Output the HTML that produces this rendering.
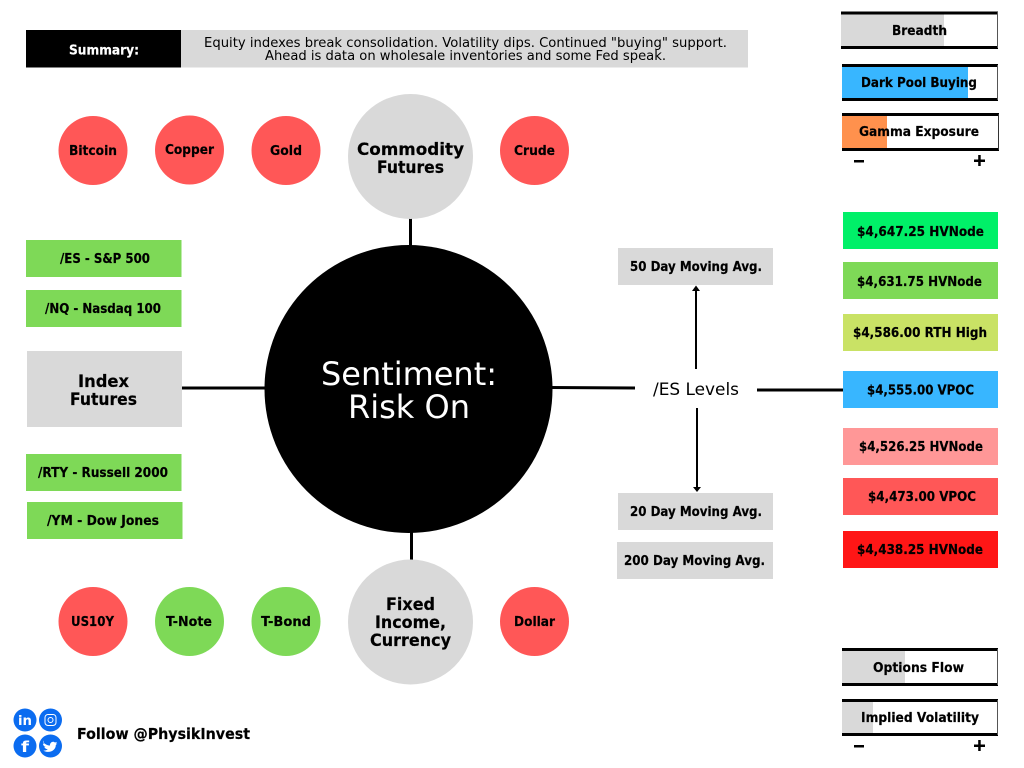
<!DOCTYPE html>
<html><head><meta charset="utf-8"><style>
html,body{margin:0;padding:0;background:#fff;width:1024px;height:768px;overflow:hidden}
svg{display:block}
text{font-family:"DejaVu Sans","Liberation Sans",sans-serif;fill:#000}
.b{font-weight:700;font-size:13px;stroke:#000;stroke-width:.2px}
.w{stroke:#fff}
.h{font-weight:700;font-size:17px;stroke:#000;stroke-width:.2px}
.r{font-size:13.5px}
</style></head><body>
<svg width="1024" height="768" viewBox="0 0 1024 768" xmlns="http://www.w3.org/2000/svg">
<rect width="1024" height="768" fill="#fff"/>
<!-- summary -->
<rect x="26" y="30" width="156" height="37.500" fill="#000"/>
<rect x="181" y="30" width="567" height="37.500" fill="#d9d9d9"/>
<text class="b w" x="69" y="54.500" textLength="70" lengthAdjust="spacingAndGlyphs" style="fill:#fff">Summary:</text>
<text class="r" x="204" y="47" textLength="523" lengthAdjust="spacingAndGlyphs">Equity indexes break consolidation. Volatility dips. Continued "buying" support.</text>
<text class="r" x="265" y="60" textLength="401" lengthAdjust="spacingAndGlyphs">Ahead is data on wholesale inventories and some Fed speak.</text>
<!-- connectors -->
<g stroke="#000" stroke-width="3" fill="none">
<line x1="410.500" y1="215" x2="410.500" y2="250"/>
<line x1="411.500" y1="530" x2="411.500" y2="562"/>
<line x1="182" y1="388" x2="268" y2="388"/>
<line x1="550" y1="387.500" x2="635" y2="388"/>
<line x1="757" y1="390" x2="843" y2="390"/>
</g>
<g stroke="#000" stroke-width="2" fill="#000">
<line x1="696" y1="288" x2="696" y2="369"/>
<line x1="697" y1="408" x2="697" y2="489"/>
</g>
<polygon points="696,285.500 700,291 692,291" fill="#000"/>
<polygon points="697,492 701,487 693,487" fill="#000"/>
<!-- circles -->
<circle cx="408.500" cy="389" r="144" fill="#000"/>
<circle cx="410.500" cy="156.500" r="62.500" fill="#d9d9d9"/>
<circle cx="410.500" cy="622" r="62.500" fill="#d9d9d9"/>
<g fill="#ff5757">
<circle cx="93" cy="150.500" r="34.500"/>
<circle cx="189.500" cy="150" r="34.500"/>
<circle cx="286" cy="150.500" r="34.500"/>
<circle cx="534.500" cy="150.500" r="34.500"/>
<circle cx="93" cy="621.500" r="34.500"/>
<circle cx="534.500" cy="621.500" r="34.500"/>
</g>
<g fill="#7ed957">
<circle cx="189.500" cy="621.500" r="34.500"/>
<circle cx="286" cy="621.500" r="34.500"/>
</g>
<text x="321" y="385" font-size="32" textLength="176" lengthAdjust="spacingAndGlyphs" style="fill:#fff">Sentiment:</text>
<text x="348" y="418" font-size="32" textLength="122" lengthAdjust="spacingAndGlyphs" style="fill:#fff">Risk On</text>
<text class="h" x="357" y="155" textLength="107" lengthAdjust="spacingAndGlyphs">Commodity</text>
<text class="h" x="377" y="173" textLength="67" lengthAdjust="spacingAndGlyphs">Futures</text>
<text class="h" x="386" y="610" textLength="49" lengthAdjust="spacingAndGlyphs">Fixed</text>
<text class="h" x="375" y="628" textLength="71" lengthAdjust="spacingAndGlyphs">Income,</text>
<text class="h" x="370" y="646" textLength="81" lengthAdjust="spacingAndGlyphs">Currency</text>
<text class="b" x="69" y="155" textLength="48" lengthAdjust="spacingAndGlyphs">Bitcoin</text>
<text class="b" x="165" y="154" textLength="49" lengthAdjust="spacingAndGlyphs">Copper</text>
<text class="b" x="270" y="155" textLength="32" lengthAdjust="spacingAndGlyphs">Gold</text>
<text class="b" x="514" y="155" textLength="41" lengthAdjust="spacingAndGlyphs">Crude</text>
<text class="b" x="71" y="626" textLength="43" lengthAdjust="spacingAndGlyphs">US10Y</text>
<text class="b" x="166" y="626" textLength="46" lengthAdjust="spacingAndGlyphs">T-Note</text>
<text class="b" x="261" y="626" textLength="50" lengthAdjust="spacingAndGlyphs">T-Bond</text>
<text class="b" x="514" y="626" textLength="41" lengthAdjust="spacingAndGlyphs">Dollar</text>
<!-- left index -->
<g fill="#7ed957">
<rect x="26" y="240" width="155.500" height="37"/>
<rect x="26" y="290" width="155.500" height="37"/>
<rect x="26" y="454" width="155.500" height="37"/>
<rect x="27" y="502" width="155.500" height="37"/>
</g>
<rect x="27" y="351" width="155" height="76" fill="#d9d9d9"/>
<text class="b" x="60" y="263" textLength="90" lengthAdjust="spacingAndGlyphs">/ES - S&amp;P 500</text>
<text class="b" x="45" y="313" textLength="116" lengthAdjust="spacingAndGlyphs">/NQ - Nasdaq 100</text>
<text class="b" x="38" y="477" textLength="130" lengthAdjust="spacingAndGlyphs">/RTY - Russell 2000</text>
<text class="b" x="47" y="525" textLength="112" lengthAdjust="spacingAndGlyphs">/YM - Dow Jones</text>
<text class="h" x="78" y="387" textLength="51" lengthAdjust="spacingAndGlyphs">Index</text>
<text class="h" x="70" y="405" textLength="67" lengthAdjust="spacingAndGlyphs">Futures</text>
<!-- ES levels -->
<text x="653" y="395" font-size="17" textLength="86" lengthAdjust="spacingAndGlyphs">/ES Levels</text>
<g fill="#d9d9d9">
<rect x="618" y="248" width="155" height="37"/>
<rect x="618" y="493" width="155" height="37"/>
<rect x="617" y="542" width="156" height="37"/>
</g>
<text class="b" x="630" y="271" textLength="132" lengthAdjust="spacingAndGlyphs">50 Day Moving Avg.</text>
<text class="b" x="630" y="516" textLength="132" lengthAdjust="spacingAndGlyphs">20 Day Moving Avg.</text>
<text class="b" x="624" y="565" textLength="141" lengthAdjust="spacingAndGlyphs">200 Day Moving Avg.</text>
<!-- right levels -->
<rect x="843" y="212" width="155" height="37" fill="#00f068"/>
<rect x="843" y="262" width="155" height="37" fill="#7ed957"/>
<rect x="843" y="314" width="155" height="37" fill="#c9e265"/>
<rect x="843" y="371" width="155" height="37" fill="#38b6ff"/>
<rect x="843" y="428" width="155" height="37" fill="#ff9797"/>
<rect x="843" y="478" width="155" height="37" fill="#ff5757"/>
<rect x="843" y="531" width="155" height="37" fill="#ff1616"/>
<text class="b" x="857" y="236" textLength="127" lengthAdjust="spacingAndGlyphs">$4,647.25 HVNode</text>
<text class="b" x="857" y="286" textLength="125" lengthAdjust="spacingAndGlyphs">$4,631.75 HVNode</text>
<text class="b" x="853" y="337" textLength="134" lengthAdjust="spacingAndGlyphs">$4,586.00 RTH High</text>
<text class="b" x="867" y="394.500" textLength="107" lengthAdjust="spacingAndGlyphs">$4,555.00 VPOC</text>
<text class="b" x="859" y="451" textLength="124" lengthAdjust="spacingAndGlyphs">$4,526.25 HVNode</text>
<text class="b" x="868" y="501" textLength="108" lengthAdjust="spacingAndGlyphs">$4,473.00 VPOC</text>
<text class="b" x="857" y="554" textLength="126" lengthAdjust="spacingAndGlyphs">$4,438.25 HVNode</text>
<!-- gauges -->
<g>
<rect x="841" y="14" width="103" height="32" fill="#d9d9d9"/>
<rect x="842" y="67" width="126" height="32" fill="#38b6ff"/>
<rect x="842" y="116" width="45" height="33" fill="#ff914d"/>
<rect x="842" y="651" width="63" height="32" fill="#d9d9d9"/>
<rect x="842" y="702" width="31" height="32" fill="#d9d9d9"/>
</g>
<g fill="#000">
<rect x="841" y="11.500" width="157" height="3"/><rect x="841" y="46" width="157" height="3"/><rect x="997" y="12" width="1" height="36" fill="#555"/>
<rect x="842" y="64" width="156" height="3"/><rect x="842" y="98" width="156" height="3"/><rect x="997" y="65" width="1" height="35" fill="#555"/>
<rect x="842" y="113" width="157" height="3"/><rect x="842" y="148" width="157" height="3"/><rect x="998" y="114" width="1" height="36" fill="#333"/>
<rect x="842" y="648" width="156" height="3"/><rect x="842" y="683" width="156" height="3"/><rect x="997" y="649" width="1" height="36" fill="#555"/>
<rect x="842" y="699" width="156" height="3"/><rect x="842" y="733" width="156" height="3"/><rect x="997" y="700" width="1" height="35" fill="#555"/>
<rect x="854" y="160" width="10" height="2.500"/><rect x="974" y="159.500" width="11" height="2.500"/><rect x="978.200" y="155" width="2.500" height="11"/>
<rect x="854" y="745" width="10" height="2.500"/><rect x="974" y="744.500" width="11" height="2.500"/><rect x="978.200" y="740" width="2.500" height="11"/>
</g>
<text class="b" x="892" y="35" textLength="55" lengthAdjust="spacingAndGlyphs">Breadth</text>
<text class="b" x="861" y="87" textLength="116" lengthAdjust="spacingAndGlyphs">Dark Pool Buying</text>
<text class="b" x="859" y="136" textLength="120" lengthAdjust="spacingAndGlyphs">Gamma Exposure</text>
<text class="b" x="873" y="672" textLength="91" lengthAdjust="spacingAndGlyphs">Options Flow</text>
<text class="b" x="861" y="722" textLength="118" lengthAdjust="spacingAndGlyphs">Implied Volatility</text>
<!-- social -->
<g fill="#0b6cf0">
<circle cx="25" cy="720" r="11.500"/><circle cx="50.500" cy="720" r="11.500"/>
<circle cx="25" cy="746" r="11.500"/><circle cx="50.500" cy="746" r="11.500"/>
</g>
<text x="18" y="725" font-size="13" font-weight="700" style="fill:#fff" textLength="14" lengthAdjust="spacingAndGlyphs">in</text>
<rect x="45" y="714.500" width="11" height="11" rx="3" fill="none" stroke="#fff" stroke-width="1"/>
<circle cx="50.500" cy="720" r="2.500" fill="none" stroke="#fff" stroke-width="1"/>
<text x="21" y="752" font-size="15" font-weight="700" style="fill:#fff" textLength="8" lengthAdjust="spacingAndGlyphs">f</text>
<path d="M43.500 742.500c2 2 4 3 6.500 3-.3-3 3-5 5-3l2-.6-1.200 1.800 1.500-.3-1.500 1.700c0 5-6 9-12.500 5.500 2 .1 3.500-.4 4.500-1.300-2-.2-3-1.200-3.500-2.400h1.500c-2-.6-2.800-2-2.800-3.300l1.400.4c-1.500-1.200-1.600-2.500-.9-3.500z" fill="#fff"/>
<text class="h" x="77" y="739" style="font-size:15px" textLength="173" lengthAdjust="spacingAndGlyphs">Follow @PhysikInvest</text>
</svg>
</body></html>
